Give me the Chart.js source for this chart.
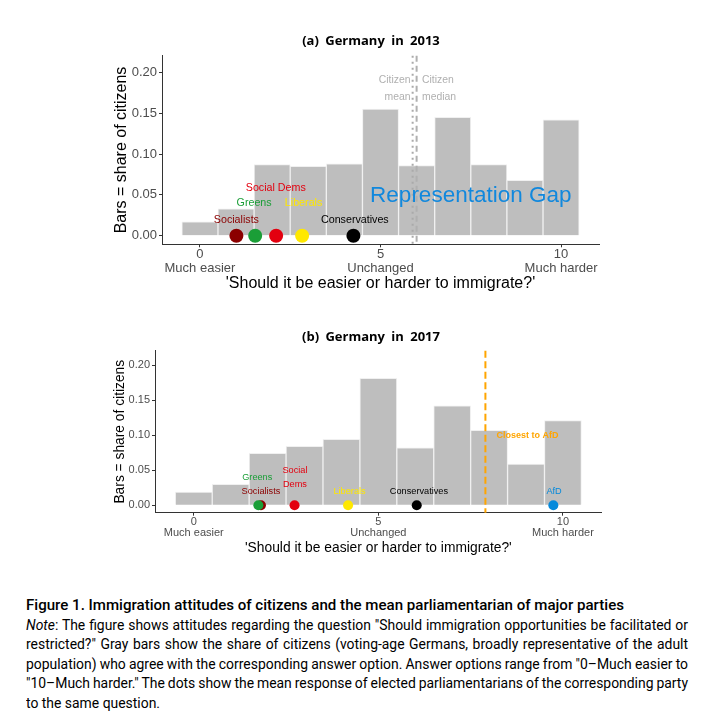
<!DOCTYPE html>
<html>
<head>
<meta charset="utf-8">
<script src="https://cdn.jsdelivr.net/npm/chart.js@4.4.1/dist/chart.umd.min.js"></script>
<style>
  html, body { margin: 0; padding: 0; background: #fff; }
  body { width: 714px; height: 722px; position: relative; overflow: hidden; }
  canvas { position: absolute; left: 0; }
  #chartA { top: 0; }
  #chartB { top: 300px; }
  .panel-title {
    position: absolute; left: 221px; width: 300px; text-align: center;
    font-family: 'Open Sans', sans-serif; font-weight: 700; font-size: 13px;
    word-spacing: 3px; line-height: 16px; color: #000;
  }
  #caption { position: absolute; left: 26px; top: 596px; width: 680px; font-family: Roboto, sans-serif; color: #000; }
  #caption span { display: block; width: max-content; white-space: nowrap; transform-origin: 0 50%; height: 19.5px; line-height: 19.5px; font-size: 14px; }
  #caption .cap-title { font-weight: 500; }
</style>
</head>
<body>
<canvas id="chartA" width="714" height="300"></canvas>
<canvas id="chartB" width="714" height="270"></canvas>
<div class="panel-title" style="top:32px">(a) Germany in 2013</div>
<div class="panel-title" style="top:328px">(b) Germany in 2017</div>

<div id="caption">
  <span class="cap-title">Figure 1. Immigration attitudes of citizens and the mean parliamentarian of major parties</span>
  <span class="just"><i>Note</i>: The figure shows attitudes regarding the question "Should immigration opportunities be facilitated or</span>
  <span class="just">restricted?" Gray bars show the share of citizens (voting-age Germans, broadly representative of the adult</span>
  <span class="just">population) who agree with the corresponding answer option. Answer options range from "0–Much easier to</span>
  <span class="just">"10–Much harder." The dots show the mean response of elected parliamentarians of the corresponding party</span>
  <span class="last">to the same question.</span>
</div>

<script>
// answer scale 0..10
const answerOptions = [0, 1, 2, 3, 4, 5, 6, 7, 8, 9, 10];
const citizens2013 = [0.017, 0.033, 0.087, 0.085, 0.088, 0.155, 0.086, 0.145, 0.087, 0.068, 0.142];
const citizens2017 = [0.019, 0.030, 0.074, 0.084, 0.094, 0.181, 0.082, 0.142, 0.107, 0.059, 0.121];

// mean MP position per party
const parties2013 = ['Socialists', 'Greens', 'Social Dems', 'Liberals', 'Conservatives'];
const mpMean2013 = [1.01, 1.53, 2.11, 2.83, 4.25];
const parties2017 = ['Socialists', 'Greens', 'Social Dems', 'Liberals', 'Conservatives', 'AfD'];
const mpMean2017 = [1.82, 1.75, 2.73, 4.18, 6.04, 9.74];

const citizenMean2013 = 5.89;
const citizenMedian2013 = 6.0;
const closestToAfd2017 = 7.9;

const xTickValues = [0, 5, 10];
const xTickNames = ['Much easier', 'Unchanged', 'Much harder'];
const yTickValues = [0, 0.05, 0.10, 0.15, 0.20];

const partyColors = {
  'Socialists': '#8b0000', 'Greens': '#1a9e37', 'Social Dems': '#e3000f',
  'Liberals': '#ffe800', 'Conservatives': '#000000', 'AfD': '#0489db'
};

// where each party name sits (data units), lines stacked downwards
const labelSpots2013 = {
  'Socialists': { x: 1.01, y: 0.0195, lines: ['Socialists'] },
  'Greens': { x: 1.5, y: 0.040, lines: ['Greens'] },
  'Social Dems': { x: 2.1, y: 0.059, lines: ['Social Dems'] },
  'Liberals': { x: 2.87, y: 0.040, lines: ['Liberals'] },
  'Conservatives': { x: 4.29, y: 0.0195, lines: ['Conservatives'] }
};
const labelSpots2017 = {
  'Socialists': { x: 1.82, y: 0.020, lines: ['Socialists'] },
  'Greens': { x: 1.72, y: 0.040, lines: ['Greens'] },
  'Social Dems': { x: 2.74, y: 0.050, lines: ['Social', 'Dems'] },
  'Liberals': { x: 4.22, y: 0.020, lines: ['Liberals'] },
  'Conservatives': { x: 6.1, y: 0.020, lines: ['Conservatives'] },
  'AfD': { x: 9.76, y: 0.020, lines: ['AfD'] }
};

Chart.defaults.font.family = '"Liberation Sans", Arial, sans-serif';

// vertical reference lines + free text, placed through the chart scales
function overlay(cfg) {
  return {
    id: 'overlay',
    afterDatasetsDraw(chart) {
      const { ctx, chartArea, scales: { x, y } } = chart;
      ctx.save();
      cfg.vlines.forEach(l => {
        const px = x.getPixelForValue(l.x);
        ctx.beginPath();
        ctx.setLineDash(l.dash);
        ctx.lineWidth = l.width;
        ctx.strokeStyle = l.color;
        ctx.moveTo(px, chartArea.top);
        ctx.lineTo(px, chartArea.bottom);
        ctx.stroke();
      });
      ctx.setLineDash([]);
      cfg.texts.forEach(t => {
        ctx.font = t.font;
        ctx.fillStyle = t.color;
        ctx.textAlign = t.align || 'center';
        ctx.textBaseline = 'middle';
        t.lines.forEach((s, i) => {
          ctx.fillText(s, x.getPixelForValue(t.x), y.getPixelForValue(t.y) + i * (t.step || 0));
        });
      });
      ctx.restore();
    }
  };
}

function partyTexts(names, spots, font, step) {
  return names.map(n => ({ ...spots[n], color: partyColors[n], font, step }));
}

function makePanel(id, p) {
  const ctx = document.getElementById(id).getContext('2d');
  const colors = p.parties.map(n => partyColors[n]);
  return new Chart(ctx, {
    type: 'bar',
    data: {
      datasets: [
        {
          type: 'scatter', order: 0, clip: false,
          data: p.positions.map(v => ({ x: v, y: 0 })),
          pointRadius: p.dotRadius, pointHoverRadius: p.dotRadius,
          pointBackgroundColor: colors, pointBorderColor: colors, pointBorderWidth: 0
        },
        {
          type: 'bar', order: 1,
          data: p.shares.map((v, i) => ({ x: answerOptions[i], y: v })),
          backgroundColor: '#bebebe', borderColor: '#f0f0f0', borderWidth: 1,
          barPercentage: 1, categoryPercentage: 1
        }
      ]
    },
    options: {
      responsive: false, animation: false, devicePixelRatio: 1,
      layout: { padding: p.padding },
      plugins: { legend: { display: false }, tooltip: { enabled: false } },
      scales: {
        x: {
          type: 'linear', min: -1.05, max: 11.05, offset: false,
          afterBuildTicks: s => { s.ticks = xTickValues.map(v => ({ value: v })); },
          afterFit: s => { s.height = p.xAxisHeight; },
          grid: { display: true, drawOnChartArea: false, tickLength: 3, color: '#333', offset: false },
          border: { display: true, color: '#333', width: 1 },
          ticks: {
            color: '#4d4d4d', padding: 0, maxRotation: 0, autoSkip: false,
            font: { size: p.tickSize, lineHeight: p.tickLine },
            callback: v => [String(v), xTickNames[xTickValues.indexOf(v)]]
          },
          title: {
            display: true, text: "'Should it be easier or harder to immigrate?'",
            color: '#000', padding: 0, font: { size: p.titleSize, lineHeight: 1 }
          }
        },
        y: {
          min: -0.0105, max: 0.2205,
          afterBuildTicks: s => { s.ticks = yTickValues.map(v => ({ value: v })); },
          afterFit: s => { s.width = p.yAxisWidth; },
          grid: { display: true, drawOnChartArea: false, tickLength: 3, color: '#333' },
          border: { display: true, color: '#333', width: 1 },
          ticks: { color: '#4d4d4d', padding: 2, font: { size: p.tickSize }, callback: v => v.toFixed(2) },
          title: {
            display: true, text: 'Bars = share of citizens',
            color: '#000', padding: 0, font: { size: p.titleSize, lineHeight: 1 }
          }
        }
      }
    },
    plugins: [overlay(p.overlay)]
  });
}

makePanel('chartA', {
  parties: parties2013, positions: mpMean2013, shares: citizens2013,
  dotRadius: 7, tickSize: 13, tickLine: 14 / 13, titleSize: 16,
  padding: { left: 114, right: 115, top: 55.7, bottom: 8.7 },
  yAxisWidth: 48, xAxisHeight: 47,
  overlay: {
    vlines: [
      { x: citizenMean2013, color: '#aaaaaa', dash: [2, 4], width: 2 },
      { x: citizenMedian2013, color: '#b0b0b0', dash: [6, 4], width: 2 }
    ],
    texts: [
      ...partyTexts(parties2013, labelSpots2013, '10.7px "Liberation Sans"', 0),
      { x: 5.83, y: 0.19, lines: ['Citizen', 'mean'], align: 'right', color: '#b0b0b0', font: '10.4px "Liberation Sans"', step: 17 },
      { x: 6.15, y: 0.19, lines: ['Citizen', 'median'], align: 'left', color: '#b0b0b0', font: '10.4px "Liberation Sans"', step: 17 },
      { x: 7.5, y: 0.049, lines: ['Representation Gap'], color: '#1188dd', font: '22.5px "Liberation Sans"' }
    ]
  }
});

makePanel('chartB', {
  parties: parties2017, positions: mpMean2017, shares: citizens2017,
  dotRadius: 5, tickSize: 11, tickLine: 11.6 / 11, titleSize: 13.8,
  padding: { left: 113.1, right: 112.3, top: 50.7, bottom: 15.4 },
  yAxisWidth: 41.9, xAxisHeight: 41.9,
  overlay: {
    vlines: [
      { x: closestToAfd2017, color: '#ffa500', dash: [7, 3.5], width: 2 }
    ],
    texts: [
      ...partyTexts(parties2017, labelSpots2017, '9.2px "Liberation Sans"', 14),
      { x: 8.2, y: 0.0998, lines: ['Closest to AfD'], align: 'left', color: '#ffa500', font: 'bold 9px "Liberation Sans"' }
    ]
  }
});

// caption: condense the sans font to the original width and justify the lines
const capWidth = 662;
const capLines = [...document.querySelectorAll('#caption span')];
const natural = capLines.map(el => el.getBoundingClientRect().width);
const squeeze = 134 / natural[capLines.length - 1];
capLines.forEach((el, i) => {
  const w = natural[i];
  if (el.classList.contains('cap-title')) {
    el.style.transform = 'scaleX(' + (598 / w) + ')';
  } else if (el.classList.contains('just')) {
    const gaps = (el.textContent.match(/ /g) || []).length;
    el.style.wordSpacing = ((capWidth / squeeze - w) / gaps) + 'px';
    el.style.transform = 'scaleX(' + squeeze + ')';
  } else {
    el.style.transform = 'scaleX(' + squeeze + ')';
  }
});
</script>
</body>
</html>
